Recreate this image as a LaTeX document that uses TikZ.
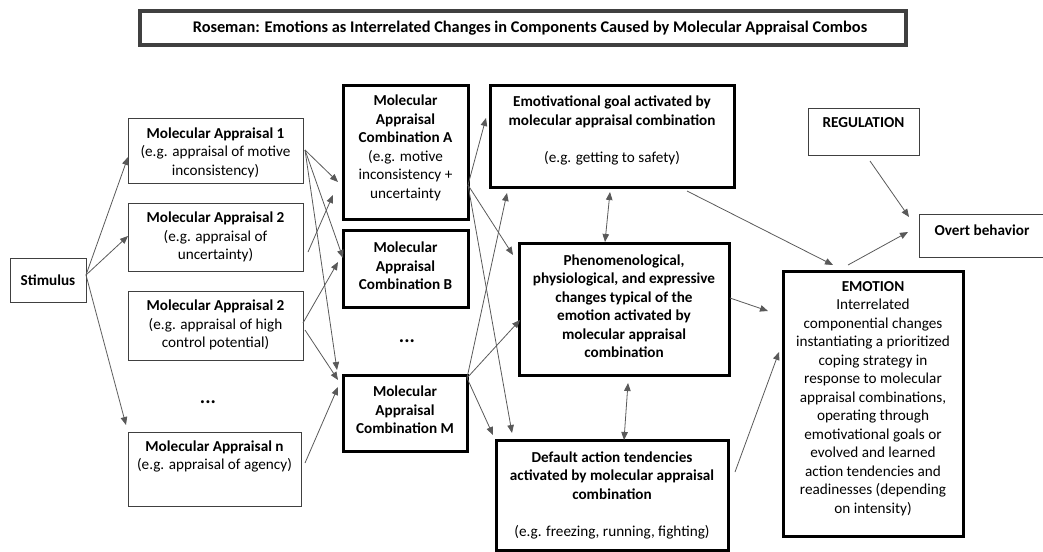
\documentclass[tikz,border=0pt]{standalone}
\usepackage{fontspec}
\setmainfont{Carlito}
\usetikzlibrary{arrows.meta,calc}
\begin{document}
\begin{tikzpicture}[x=1pt,y=-1pt,
  box/.style={draw=black!75, line width=0.9pt, anchor=north west, inner sep=0pt, outer sep=0pt},
  tbox/.style={draw=black, line width=3pt, anchor=north west, inner sep=0pt, outer sep=0pt},
  titlebox/.style={draw=black!75, line width=3.5pt, anchor=north west, inner sep=0pt, outer sep=0pt},
  txt/.style={align=center, font=\fontsize{15.2}{18.5}\selectfont, inner sep=0pt},
  dotsstyle/.style={font=\fontsize{20}{20}\selectfont\bfseries, inner sep=0pt},
  arr/.style={draw=black!65, line width=0.8pt, -{Triangle[length=8pt,width=6.5pt]}},
  darr/.style={draw=black!65, line width=0.8pt, {Triangle[length=8pt,width=6.5pt]}-{Triangle[length=8pt,width=6.5pt]}}]
\useasboundingbox (0,0) rectangle (1043,551);

% title
\node[titlebox, minimum width=766pt, minimum height=34pt] (title) at (140,11) {};
\node[txt, font=\fontsize{16.3}{18}\selectfont\bfseries] (titleT) at (530,28) {Roseman: Emotions as Interrelated Changes in Components Caused by Molecular Appraisal Combos};

% left column
\node[box, minimum width=76pt, minimum height=44pt] (stim) at (10,258) {};
\node[txt] (stimT) at (48,280) {\textbf{Stimulus}};

\node[box, minimum width=175pt, minimum height=65pt] (ma1) at (128,118) {};
\node[txt] (ma1T) at (215.5,152.5) {\textbf{Molecular Appraisal 1}\\(e.g. appraisal of motive\\inconsistency)};

\node[box, minimum width=175pt, minimum height=68pt] (ma2) at (128,203) {};
\node[txt] (ma2T) at (215.5,237) {\textbf{Molecular Appraisal 2}\\(e.g. appraisal of\\uncertainty)};

\node[box, minimum width=175pt, minimum height=69pt] (ma3) at (128,291) {};
\node[txt] (ma3T) at (215.5,325) {\textbf{Molecular Appraisal 2}\\(e.g. appraisal of high\\control potential)};

\node[dotsstyle] (dots1) at (208,402) {...};

\node[box, minimum width=173pt, minimum height=74pt] (man) at (128,432) {};
\node[txt] (manT) at (214.5,456.5) {\textbf{Molecular Appraisal n}\\(e.g. appraisal of agency)};

% combinations
\node[tbox, minimum width=125pt, minimum height=134pt] (ca) at (343,85) {};
\node[txt] (caT) at (405.5,148) {\textbf{Molecular}\\\textbf{Appraisal}\\\textbf{Combination A}\\(e.g. motive\\inconsistency +\\uncertainty};

\node[tbox, minimum width=125pt, minimum height=77pt] (cb) at (343,230) {};
\node[txt] (cbT) at (405.5,266) {\textbf{Molecular}\\\textbf{Appraisal}\\\textbf{Combination B}};

\node[dotsstyle] (dots2) at (407,341) {...};

\node[tbox, minimum width=124pt, minimum height=76pt] (cm) at (343,375) {};
\node[txt] (cmT) at (405,410) {\textbf{Molecular}\\\textbf{Appraisal}\\\textbf{Combination M}};

% components
\node[tbox, minimum width=244pt, minimum height=102pt] (goal) at (490,85) {};
\node[txt] (goalT) at (612,130.5) {\textbf{Emotivational goal activated by}\\\textbf{molecular appraisal combination}\\[18.5pt](e.g. getting to safety)};

\node[tbox, minimum width=210pt, minimum height=132pt] (phen) at (519,243) {};
\node[txt] (phenT) at (624,306) {\textbf{Phenomenological,}\\\textbf{physiological, and expressive}\\\textbf{changes typical of the}\\\textbf{emotion activated by}\\\textbf{molecular appraisal}\\\textbf{combination}};

\node[tbox, minimum width=232pt, minimum height=110pt] (dflt) at (496,440) {};
\node[txt] (dfltT) at (612,495) {\textbf{Default action tendencies}\\\textbf{activated by molecular appraisal}\\\textbf{combination}\\[18.5pt](e.g. freezing, running, fighting)};

% right
\node[tbox, minimum width=180pt, minimum height=265pt] (emo) at (783,271) {};
\node[txt] (emoT) at (873,398.5) {\textbf{EMOTION}\\Interrelated\\componential changes\\instantiating a prioritized\\coping strategy in\\response to molecular\\appraisal combinations,\\operating through\\emotivational goals or\\evolved and learned\\action tendencies and\\readinesses (depending\\on intensity)};

\node[box, minimum width=111pt, minimum height=47pt] (reg) at (808,108) {};
\node[txt] (regT) at (863.5,123) {\textbf{REGULATION}};

\node[box, minimum width=126pt, minimum height=43pt] (overt) at (919,214) {};
\node[txt] (overtT) at (982,230) {\textbf{Overt behavior}};

% arrows
\draw[arr] ($(stim.north west)+(76,17)$) -- ($(ma1.north west)+(0,39)$);
\draw[arr] ($(stim.north west)+(76,17)$) -- ($(ma2.north west)+(0,33)$);
\draw[arr] ($(stim.north west)+(76,17)$) -- ($(man.north west)+(-2,-7)$);

\draw[arr] ($(ma1.north west)+(177,32)$) -- ($(ca.north west)+(-5,97)$);
\draw[arr] ($(ma1.north west)+(177,32)$) -- ($(cb.north west)+(0,28)$);
\draw[arr] ($(ma1.north west)+(177,32)$) -- ($(cm.north west)+(-6,-5)$);
\draw[arr] ($(ma2.north west)+(180,49)$) -- ($(ca.north west)+(-10,110)$);
\draw[arr] ($(ma3.north west)+(175,32)$) -- ($(cb.north west)+(-5,32)$);
\draw[arr] ($(ma3.north west)+(177,39)$) -- ($(cm.north west)+(-5,5)$);
\draw[arr] ($(man.north west)+(177,31)$) -- ($(cm.north west)+(-5,12)$);

\draw[arr] ($(ca.north west)+(125,100)$) -- ($(goal.north west)+(-4,33)$);
\draw[arr] ($(ca.north west)+(125,100)$) -- ($(phen.north west)+(-6,12)$);
\draw[arr] ($(ca.north west)+(125,100)$) -- ($(dflt.north west)+(16,-7)$);
\draw[arr] ($(cm.north west)+(124,3)$) -- ($(goal.north west)+(17,108)$);
\draw[arr] ($(cm.north west)+(124,3)$) -- ($(phen.north west)+(1,77)$);
\draw[arr] ($(cm.north west)+(124,3)$) -- ($(dflt.north west)+(-3,-5)$);

\draw[darr] ($(goal.north west)+(120,107)$) -- ($(phen.north west)+(86,-1)$);
\draw[darr] ($(phen.north west)+(109,140)$) -- ($(dflt.north west)+(128,0)$);

\draw[arr] ($(goal.north west)+(197,106)$) -- ($(emo.north west)+(50,-6)$);
\draw[arr] ($(phen.north west)+(211,55)$) -- ($(emo.north west)+(-15,40)$);
\draw[arr] ($(dflt.north west)+(239,32)$) -- ($(emo.north west)+(-4,81)$);
\draw[arr] ($(emo.north west)+(65,-6)$) -- ($(overt.north west)+(-11,18)$);
\draw[arr] ($(reg.north west)+(62,53)$) -- ($(overt.north west)+(-10,3)$);
\end{tikzpicture}
\end{document}
